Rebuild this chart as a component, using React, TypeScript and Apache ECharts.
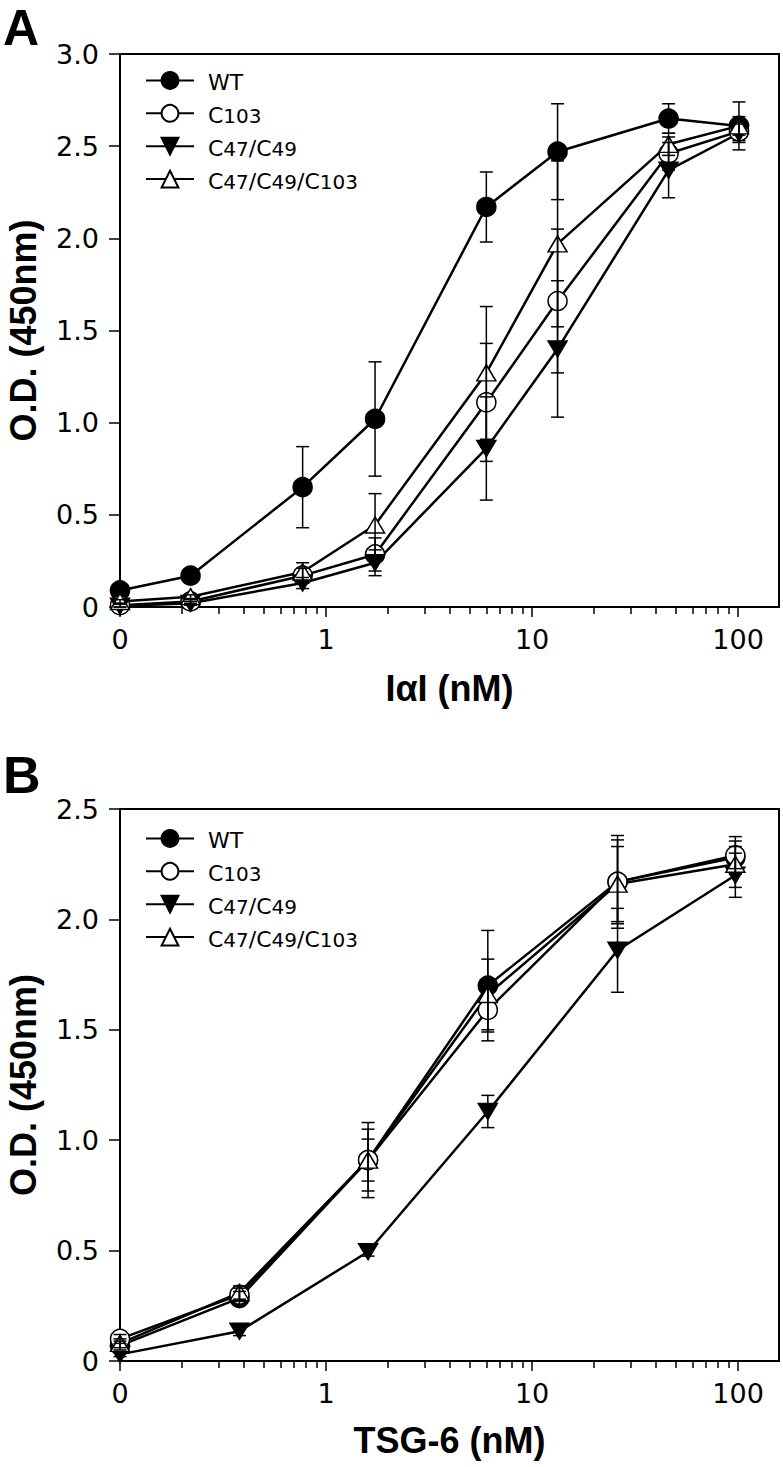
import React, { useEffect, useRef } from 'react';
import * as echarts from 'echarts';

const FONT = '"Liberation Sans", Arial, Helvetica, sans-serif';
const WIDE = '"DejaVu Sans", "Liberation Sans", Arial, sans-serif';

const seriesNames = ['WT', 'C103', 'C47/C49', 'C47/C49/C103'];

// X axis (log): concentration 0 is drawn at the axis origin 0.1 and labelled "0"
const xTickValues = [0.1, 1, 10, 100];
const xTickLabels = ['0', '1', '10', '100'];
const xMinorTicks = [0.2, 0.3, 0.4, 0.5, 0.6, 0.7, 0.8, 0.9, 2, 3, 4, 5, 6, 7, 8, 9, 20, 30, 40, 50, 60, 70, 80, 90];

// Panel A: IαI (nM)
const xA = [0.1, 0.22, 0.77, 1.73, 6.0, 13.3, 46, 101];
const wtA = [0.09, 0.17, 0.65, 1.02, 2.17, 2.47, 2.65, 2.61];
const wtAerr = [0.02, 0.03, 0.22, 0.31, 0.19, 0.26, 0.08, 0.05];
const c103A = [0.01, 0.03, 0.17, 0.285, 1.11, 1.66, 2.46, 2.58];
const c103Aerr = [0.01, 0.01, 0.04, 0.09, 0.32, 0.39, 0.09, 0.05];
const c4749A = [0.005, 0.02, 0.13, 0.24, 0.86, 1.40, 2.37, 2.57];
const c4749Aerr = [0.01, 0.01, 0.03, 0.07, 0.28, 0.37, 0.15, 0.05];
const c4749103A = [0.03, 0.056, 0.19, 0.445, 1.27, 1.97, 2.51, 2.61];
const c4749103Aerr = [0.01, 0.01, 0.05, 0.17, 0.36, 0.45, 0.06, 0.13];

// Panel B: TSG-6 (nM)
const xB = [0.1, 0.38, 1.6, 6.1, 26, 97];
const wtB = [0.07, 0.285, 0.91, 1.70, 2.17, 2.28];
const wtBerr = [0.02, 0.03, 0.17, 0.25, 0.21, 0.05];
const c103B = [0.10, 0.30, 0.91, 1.59, 2.17, 2.29];
const c103Berr = [0.02, 0.03, 0.14, 0.10, 0.19, 0.085];
const c4749B = [0.03, 0.135, 0.495, 1.13, 1.86, 2.20];
const c4749Berr = [0.01, 0.02, 0.02, 0.073, 0.19, 0.10];
const c4749103B = [0.08, 0.31, 0.91, 1.66, 2.16, 2.25];
const c4749103Berr = [0.02, 0.03, 0.095, 0.16, 0.17, 0.105];

const yMaxA = 3.0;
const yMaxB = 2.5;

const symbolDefs = [
  { symbol: 'circle', size: 19, rotate: 0, fill: '#000' },
  { symbol: 'circle', size: 19, rotate: 0, fill: '#fff' },
  { symbol: 'triangle', size: [19, 16], rotate: 180, fill: '#000' },
  { symbol: 'triangle', size: [19, 16], rotate: 0, fill: '#fff' },
];

function xLabel(v: number) {
  const i = xTickValues.findIndex((t) => Math.abs(Math.log10(t) - Math.log10(v)) < 1e-6);
  return i >= 0 ? xTickLabels[i] : '';
}

function legendFmt(name: string) {
  const parts = name.split(/(\d+)/);
  return parts
    .map((p, i) => (p === '' ? '' : i % 2 === 1 ? `{s|${p}}` : `{b|${p}}`))
    .join('');
}

export default function App() {
  const ref = useRef<HTMLDivElement>(null);
  useEffect(() => {
    if (!ref.current) return;
    const chart = echarts.init(ref.current, undefined, { renderer: 'svg' });

    const grids = [
      { left: 120, top: 54, width: 659, height: 553 },
      { left: 120, top: 809, width: 659, height: 552 },
    ];
    const axisLineStyle = { color: '#000', width: 2 };
    const tickLineStyle = { color: '#000', width: 1.5 };

    const xAxes: any[] = [];
    const yAxes: any[] = [];
    const names = ['I\u03B1I (nM)', 'TSG-6 (nM)'];
    [0, 1].forEach((gi) => {
      xAxes.push({
        type: 'log',
        logBase: 10,
        gridIndex: gi,
        min: 0.1,
        max: 158,
        position: 'bottom',
        name: names[gi],
        nameLocation: 'middle',
        nameGap: gi === 0 ? 63 : 61,
        nameTextStyle: { fontSize: 36, fontWeight: 'bold', color: '#000', fontFamily: FONT },
        axisLine: { show: true, onZero: false, lineStyle: axisLineStyle },
        axisTick: { show: true, length: 10, lineStyle: tickLineStyle, customValues: xTickValues },
        axisLabel: {
          show: true,
          customValues: xTickValues,
          formatter: (v: number) => xLabel(v),
          fontSize: 27,
          color: '#000',
          margin: 19,
          fontFamily: WIDE,
        },
        splitLine: { show: false },
      });
      xAxes.push({
        type: 'log',
        logBase: 10,
        gridIndex: gi,
        min: 0.1,
        max: 158,
        position: 'bottom',
        axisLine: { show: false, onZero: false },
        axisTick: { show: true, length: 7, lineStyle: tickLineStyle, customValues: xMinorTicks },
        axisLabel: { show: false },
        splitLine: { show: false },
      });
      yAxes.push({
        type: 'value',
        gridIndex: gi,
        min: 0,
        max: gi === 0 ? yMaxA : yMaxB,
        interval: 0.5,
        name: 'O.D. (450nm)',
        nameLocation: 'middle',
        nameRotate: 90,
        nameGap: 79,
        nameTextStyle: { fontSize: 36, fontWeight: 'bold', color: '#000', fontFamily: FONT },
        axisLine: { show: true, onZero: false, lineStyle: axisLineStyle },
        axisTick: { show: true, length: 11, lineStyle: tickLineStyle },
        axisLabel: {
          formatter: (v: number) => (v === 0 ? '0' : v.toFixed(1)),
          fontSize: 27,
          color: '#000',
          margin: 21,
          fontFamily: WIDE,
        },
        splitLine: { show: false },
      });
    });

    const panels = [
      { xs: xA, ys: [wtA, c103A, c4749A, c4749103A], es: [wtAerr, c103Aerr, c4749Aerr, c4749103Aerr] },
      { xs: xB, ys: [wtB, c103B, c4749B, c4749103B], es: [wtBerr, c103Berr, c4749Berr, c4749103Berr] },
    ];

    const series: any[] = [];
    panels.forEach((p, pi) => {
      p.ys.forEach((ys, si) => {
        const sd = symbolDefs[si];
        series.push({
          type: 'line',
          name: seriesNames[si],
          xAxisIndex: pi * 2,
          yAxisIndex: pi,
          data: p.xs.map((x, i) => [x, ys[i]]),
          symbol: sd.symbol,
          symbolSize: sd.size,
          symbolRotate: sd.rotate,
          showAllSymbol: true,
          itemStyle: { color: sd.fill, borderColor: '#000', borderWidth: 1.5, opacity: 1 },
          lineStyle: { color: '#000', width: 2.5 },
          emphasis: { disabled: true },
          z: 2,
        });
      });
      p.ys.forEach((ys, si) => {
        series.push({
          type: 'custom',
          name: seriesNames[si] + ' error',
          xAxisIndex: pi * 2,
          yAxisIndex: pi,
          silent: true,
          z: 3,
          encode: { x: 0, y: 1 },
          data: p.xs.map((x, i) => [x, ys[i], p.es[si][i]]),
          renderItem: (params: any, api: any) => {
            const x = api.value(0);
            const y = api.value(1);
            const e = api.value(2);
            const top = api.coord([x, y + e]);
            const bot = api.coord([x, Math.max(0, y - e)]);
            const hw = 6.5;
            const st = { stroke: '#000', lineWidth: 1.5 };
            return {
              type: 'group',
              children: [
                { type: 'line', shape: { x1: top[0], y1: top[1], x2: bot[0], y2: bot[1] }, style: st },
                { type: 'line', shape: { x1: top[0] - hw, y1: top[1], x2: top[0] + hw, y2: top[1] }, style: st },
                { type: 'line', shape: { x1: bot[0] - hw, y1: bot[1], x2: bot[0] + hw, y2: bot[1] }, style: st },
              ],
            };
          },
        });
      });
    });

    const legendBase = {
      data: seriesNames,
      orient: 'vertical',
      left: 140,
      itemWidth: 48,
      itemHeight: 21,
      itemGap: 10.5,
      selectedMode: false,
      formatter: legendFmt,
      textStyle: {
        color: '#000',
        fontFamily: WIDE,
        padding: [0, 0, 0, 9],
        rich: {
          b: { fontSize: 22, fontFamily: WIDE, color: '#000', lineHeight: 26, verticalAlign: 'bottom' },
          s: { fontSize: 20, fontFamily: WIDE, color: '#000', lineHeight: 26, verticalAlign: 'bottom' },
        },
      },
    };

    chart.setOption({
      animation: false,
      backgroundColor: '#fff',
      grid: grids.map((g) => ({
        ...g,
        show: true,
        containLabel: false,
        outerBoundsMode: 'none',
        borderColor: '#000',
        borderWidth: 2,
        backgroundColor: 'transparent',
      })),
      xAxis: xAxes,
      yAxis: yAxes,
      legend: [
        { ...legendBase, top: 66 },
        { ...legendBase, top: 824 },
      ],
      graphic: [
        { type: 'text', left: 3, top: 3, style: { text: 'A', fontSize: 50, fontWeight: 'bold', fill: '#000', fontFamily: FONT } },
        { type: 'text', left: 3, top: 749, style: { text: 'B', fontSize: 52, fontWeight: 'bold', fill: '#000', fontFamily: FONT } },
      ],
      series,
    });
    return () => chart.dispose();
  }, []);
  return <div ref={ref} style={{ position: 'absolute', left: 0, top: 0, width: 783, height: 1467 }} />;
}
